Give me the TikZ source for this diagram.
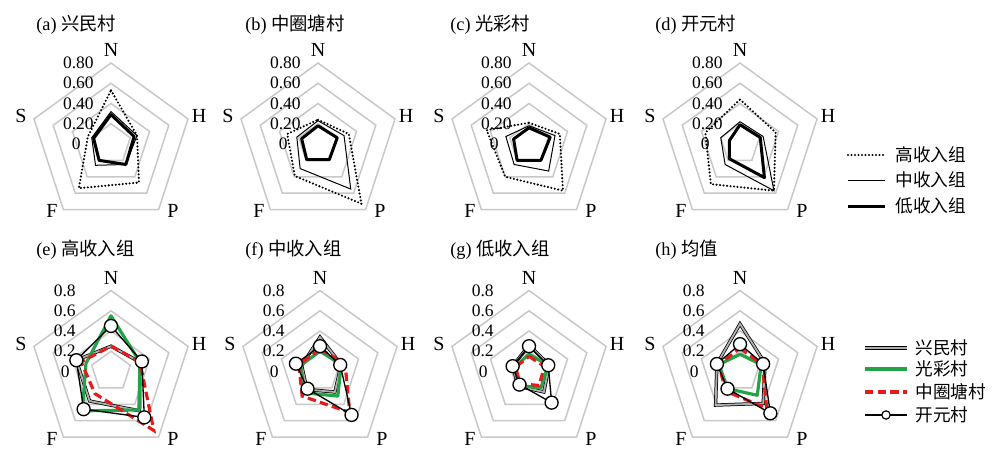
\documentclass[tikz,border=0pt]{standalone}
\usepackage{fontspec}
\setmainfont{Liberation Serif}
\newfontfamily\cjk{Noto Sans CJK SC}
\usetikzlibrary{calc,positioning}
\definecolor{gridgray}{RGB}{200,200,200}
\definecolor{xmgray}{RGB}{175,175,175}
\definecolor{gcgreen}{RGB}{34,163,72}
\definecolor{zqred}{RGB}{228,28,28}
\def\rstep{20.25}
\def\vscale{101.25}
\tikzset{
  gridline/.style={draw=gridgray, line width=0.9pt, line join=miter},
  axislab/.style={font=\fontsize{12}{14}\selectfont, inner sep=0pt},
  ticklab/.style={font=\fontsize{10.5}{12}\selectfont, inner sep=0pt, anchor=east},
  titlelab/.style={font=\fontsize{11}{13}\selectfont, inner sep=0pt, anchor=west},
  legtext/.style={font=\cjk\fontsize{10.6}{12}\selectfont, inner sep=0pt, anchor=west},
  hiline/.style={line width=1.4pt, dash pattern=on 0pt off 2.1pt, line cap=round},
  midline/.style={line width=0.6pt},
  lowline/.style={line width=1.8pt, line join=round},
  xmline/.style={line width=0.45pt, double=xmgray, double distance=1.1pt},
  gcline/.style={draw=gcgreen, line width=1.9pt, line join=round},
  zqline/.style={draw=zqred, line width=1.9pt, dash pattern=on 5pt off 2.6pt},
  kyline/.style={line width=0.8pt},
  kymark/.style={circle, draw, fill=white, line width=0.8pt, minimum size=7.8pt, inner sep=0pt},
  kylegmark/.style={circle, draw, fill=white, line width=0.7pt, minimum size=5pt, inner sep=0pt},
}
% grid, axis letters and ticks of one panel
\newcommand{\radargrid}[7]{%
  \foreach \r in {1,...,4}
    \draw[gridline] (90:{\r*\rstep}) -- (18:{\r*\rstep}) -- (-54:{\r*\rstep})
      -- (-126:{\r*\rstep}) -- (162:{\r*\rstep}) -- cycle;
  \node[axislab] (axN) at (0,94) {N};
  \node[axislab] (axH) at (88,28) {H};
  \node[axislab] (axP) at (62,-67) {P};
  \node[axislab] (axF) at (-59,-67) {F};
  \node[axislab] (axS) at (-90,28) {S};
  \node[ticklab] (t8) at (#6,81) {#1};
  \node[ticklab] (t6) at (#6,60.75) {#2};
  \node[ticklab] (t4) at (#6,40.5) {#3};
  \node[ticklab] (t2) at (#6,20.25) {#4};
  \node[ticklab] (t0) at (#7,0) {#5};
}
% one series: style, then N H P F S
\newcommand{\radar}[6]{%
  \draw[#1] (90:{#2*\vscale}) coordinate (p1) -- (18:{#3*\vscale}) coordinate (p2)
    -- (-54:{#4*\vscale}) coordinate (p3) -- (-126:{#5*\vscale}) coordinate (p4)
    -- (162:{#6*\vscale}) coordinate (p5) -- cycle;}
\newcommand{\radarky}[5]{%
  \radar{kyline}{#1}{#2}{#3}{#4}{#5}
  \foreach \i in {1,...,5} \node[kymark] at (p\i) {};}
\newcommand{\topgrid}{\radargrid{0.80}{0.60}{0.40}{0.20}{0}{-17}{-30}}
\newcommand{\botgrid}{\radargrid{0.8}{0.6}{0.4}{0.2}{0}{-35}{-41}}

\begin{document}
\begin{tikzpicture}[x=0.6pt,y=0.6pt]
\useasboundingbox (0,0) rectangle (1000,-469);
\coordinate (ca) at (111,-144);
\coordinate (cb) at (318,-144);
\coordinate (cc) at (529,-144);
\coordinate (cd) at (740,-144);
\coordinate (ce) at (111,-371.5);
\coordinate (cf) at (320,-371.5);
\coordinate (cg) at (529,-371.5);
\coordinate (ch) at (740,-371.5);

% titles
\node[titlelab] (ta) at (36,-25) {(a) {\cjk 兴民村}};
\node[titlelab] (tb) at (245,-25) {(b) {\cjk 中圈塘村}};
\node[titlelab] (tc) at (450,-25) {(c) {\cjk 光彩村}};
\node[titlelab] (td) at (655,-25) {(d) {\cjk 开元村}};
\node[titlelab] (te) at (36,-250) {(e) {\cjk 高收入组}};
\node[titlelab] (tf) at (245,-250) {(f) {\cjk 中收入组}};
\node[titlelab] (tg) at (450,-250) {(g) {\cjk 低收入组}};
\node[titlelab] (th) at (655,-250) {(h) {\cjk 均值}};

% top row: income groups per village
\begin{scope}[shift={(ca)}]
  \topgrid
  \radar{hiline}{.53}{.27}{.47}{.54}{.24}
  \radar{midline}{.32}{.27}{.25}{.26}{.20}
  \radar{lowline}{.29}{.24}{.25}{.20}{.18}
\end{scope}
\begin{scope}[shift={(cb)}]
  \topgrid
  \radar{hiline}{.24}{.32}{.73}{.39}{.32}
  \radar{midline}{.23}{.27}{.55}{.30}{.22}
  \radar{lowline}{.18}{.20}{.19}{.19}{.17}
\end{scope}
\begin{scope}[shift={(cc)}]
  \topgrid
  \radar{hiline}{.21}{.32}{.57}{.40}{.44}
  \radar{midline}{.18}{.27}{.33}{.25}{.24}
  \radar{lowline}{.16}{.22}{.20}{.20}{.16}
\end{scope}
\begin{scope}[shift={(cd)}]
  \topgrid
  \radar{hiline}{.44}{.37}{.57}{.49}{.36}
  \radar{midline}{.22}{.24}{.57}{.25}{.20}
  \radar{lowline}{.19}{.21}{.41}{.18}{.11}
\end{scope}

% bottom row: villages per income group
\begin{scope}[shift={(ce)}]
  \botgrid
  \radar{xmline}{.25}{.30}{.48}{.36}{.36}
  \radar{gcline}{.55}{.30}{.47}{.48}{.26}
  \radar{zqline}{.25}{.30}{.72}{.27}{.31}
  \radarky{.45}{.32}{.56}{.46}{.36}
\end{scope}
\begin{scope}[shift={(cf)}]
  \botgrid
  \radar{xmline}{.34}{.22}{.25}{.22}{.19}
  \radar{gcline}{.20}{.22}{.30}{.26}{.20}
  \radar{zqline}{.22}{.26}{.50}{.30}{.22}
  \radarky{.25}{.21}{.53}{.21}{.25}
\end{scope}
\begin{scope}[shift={(cg)}]
  \botgrid
  \radar{xmline}{.26}{.21}{.25}{.18}{.17}
  \radar{gcline}{.17}{.20}{.20}{.17}{.15}
  \radar{zqline}{.15}{.16}{.17}{.15}{.14}
  \radarky{.25}{.20}{.38}{.16}{.17}
\end{scope}
\begin{scope}[shift={(ch)}]
  \botgrid
  \radar{xmline}{.47}{.26}{.39}{.41}{.24}
  \radar{gcline}{.17}{.22}{.29}{.21}{.22}
  \radar{zqline}{.23}{.23}{.45}{.24}{.22}
  \radarky{.27}{.24}{.51}{.21}{.24}
\end{scope}

% legend, income groups
\coordinate (lh1) at (848,-155); \coordinate (lh2) at (885,-155);
\coordinate (lm1) at (848,-180); \coordinate (lm2) at (885,-180);
\coordinate (ll1) at (848,-206); \coordinate (ll2) at (885,-206);
\draw[hiline] (lh1) -- (lh2);
\draw[midline] (lm1) -- (lm2);
\draw[lowline] (ll1) -- (ll2);
\node[legtext, right=10 of lh2] (leg-hi) {高收入组};
\node[legtext, right=10 of lm2] (leg-mid) {中收入组};
\node[legtext, right=10 of ll2] (leg-low) {低收入组};

% legend, villages
\coordinate (lx1) at (865,-348); \coordinate (lx2) at (907,-348);
\coordinate (lg1) at (865,-369); \coordinate (lg2) at (907,-369);
\coordinate (lz1) at (865,-392); \coordinate (lz2) at (907,-392);
\coordinate (lk1) at (865,-415); \coordinate (lk2) at (907,-415);
\draw[xmline] (lx1) -- (lx2);
\draw[gcline] (lg1) -- (lg2);
\draw[zqline] (lz1) -- (lz2);
\draw[kyline] (lk1) -- (lk2);
\node[kylegmark] (lkm) at ($(lk1)!0.5!(lk2)$) {};
\node[legtext, right=8 of lx2] (leg-xm) {兴民村};
\node[legtext, right=8 of lg2] (leg-gc) {光彩村};
\node[legtext, right=8 of lz2] (leg-zq) {中圈塘村};
\node[legtext, right=8 of lk2] (leg-ky) {开元村};
\end{tikzpicture}
\end{document}
